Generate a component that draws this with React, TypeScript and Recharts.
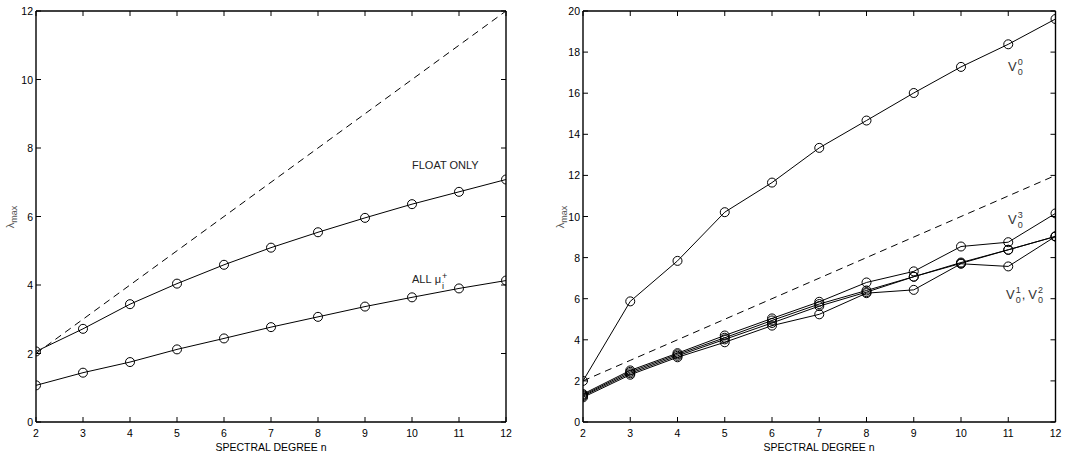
import React from 'react';
import { LineChart, Line, XAxis, YAxis } from 'recharts';

// spectral degree n on the x axis
const degrees = [2, 3, 4, 5, 6, 7, 8, 9, 10, 11, 12];

// left panel
const floatOnly = [2.06, 2.72, 3.44, 4.04, 4.59, 5.09, 5.54, 5.96, 6.36, 6.72, 7.08];
const allMu = [1.07, 1.44, 1.75, 2.12, 2.44, 2.77, 3.07, 3.37, 3.64, 3.9, 4.13];
// dashed reference lambda = n
const boundLine = [2, 3, 4, 5, 6, 7, 8, 9, 10, 11, 12];

// right panel
const v00 = [2.0, 5.87, 7.84, 10.21, 11.65, 13.34, 14.67, 16.01, 17.28, 18.38, 19.61];
const v03 = [1.36, 2.51, 3.35, 4.21, 5.04, 5.85, 6.79, 7.33, 8.54, 8.75, 10.15];
const v01 = [1.31, 2.44, 3.29, 4.1, 4.94, 5.74, 6.4, 7.07, 7.76, 8.38, 9.03];
const v02 = [1.26, 2.37, 3.22, 4.02, 4.82, 5.64, 6.32, 7.07, 7.72, 8.38, 9.03];
const v04 = [1.2, 2.3, 3.15, 3.88, 4.69, 5.24, 6.27, 6.43, 7.7, 7.57, 9.03];

const leftYTicks = [0, 2, 4, 6, 8, 10, 12];
const rightYTicks = [0, 2, 4, 6, 8, 10, 12, 14, 16, 18, 20];

const leftData = degrees.map((n, i) => ({ n, float: floatOnly[i], all: allMu[i], bound: boundLine[i] }));
const rightData = degrees.map((n, i) => ({
  n,
  v00: v00[i],
  v03: v03[i],
  v01: v01[i],
  v02: v02[i],
  v04: v04[i],
  bound: boundLine[i],
}));

const FONT = '"Liberation Sans", Arial, Helvetica, sans-serif';
const TICK = 5;
const AXIS = { stroke: '#000', strokeWidth: 1.4 };

const BottomTick = ({ x, y, payload }: any) => (
  <g>
    <line x1={x} y1={y} x2={x} y2={y - TICK} stroke="#000" />
    <text x={x} y={y + 15} textAnchor="middle" fontSize={10.5} fontFamily={FONT} fill="#000">
      {payload.value}
    </text>
  </g>
);
const TopTick = ({ x, y }: any) => <line x1={x} y1={y} x2={x} y2={y + TICK} stroke="#000" />;
const LeftTick = ({ x, y, payload }: any) => (
  <g>
    <line x1={x} y1={y} x2={x + TICK} y2={y} stroke="#000" />
    <text x={x - 3} y={y + 4} textAnchor="end" fontSize={10.5} fontFamily={FONT} fill="#000">
      {payload.value}
    </text>
  </g>
);
const RightTick = ({ x, y }: any) => <line x1={x} y1={y} x2={x - TICK} y2={y} stroke="#000" />;

const circle = { r: 4.5, stroke: '#000', strokeWidth: 1, fill: 'none' };

const Stack = ({ sup, sub, size = 9 }: { sup: string; sub: string; size?: number }) => (
  <span style={{ display: 'inline-flex', flexDirection: 'column', fontSize: size, lineHeight: `${size}px`, marginLeft: 1 }}>
    <span style={{ marginTop: -2 }}>{sup}</span>
    <span style={{ marginTop: 1 }}>{sub}</span>
  </span>
);

const V = ({ sup }: { sup: string }) => (
  <span style={{ display: 'inline-flex', alignItems: 'flex-start', lineHeight: '13px' }}>
    V
    <Stack sup={sup} sub="0" />
  </span>
);

const axes = (yTicks: number[], yMax: number, yWidth: number) => [
  <XAxis
    key="xb"
    dataKey="n"
    type="number"
    domain={[2, 12]}
    ticks={degrees}
    height={38}
    tickSize={0}
    tickMargin={0}
    tickLine={false}
    tick={<BottomTick />}
    axisLine={AXIS}
    allowDataOverflow
  />,
  <XAxis
    key="xt"
    xAxisId="top"
    orientation="top"
    dataKey="n"
    type="number"
    domain={[2, 12]}
    ticks={degrees}
    height={1}
    tickSize={0}
    tickMargin={0}
    tickLine={false}
    tick={<TopTick />}
    axisLine={AXIS}
    allowDataOverflow
  />,
  <YAxis
    key="yl"
    type="number"
    domain={[0, yMax]}
    ticks={yTicks}
    width={yWidth}
    tickSize={0}
    tickMargin={0}
    tickLine={false}
    tick={<LeftTick />}
    axisLine={AXIS}
    allowDataOverflow
  />,
  <YAxis
    key="yr"
    yAxisId="right"
    orientation="right"
    type="number"
    domain={[0, yMax]}
    ticks={yTicks}
    width={1}
    tickSize={0}
    tickMargin={0}
    tickLine={false}
    tick={<RightTick />}
    axisLine={AXIS}
    allowDataOverflow
  />,
  // invisible series so the top / right frame axes get a domain
  <Line
    key="frame"
    xAxisId="top"
    yAxisId="right"
    dataKey="bound"
    stroke="none"
    dot={false}
    activeDot={false}
    isAnimationActive={false}
  />,
];

const LambdaLabel = ({ left, top }: { left: number; top: number }) => (
  <div
    style={{
      position: 'absolute',
      left,
      top,
      transform: 'translate(-50%, -50%) rotate(-90deg)',
      fontFamily: FONT,
      fontSize: 11,
      color: '#555',
      whiteSpace: 'nowrap',
    }}
  >
    λ<sub style={{ fontSize: 9, verticalAlign: 'baseline', position: 'relative', top: 3 }}>max</sub>
  </div>
);

const XTitle = ({ left }: { left: number }) => (
  <div
    style={{
      position: 'absolute',
      left,
      top: 441,
      transform: 'translateX(-50%)',
      fontFamily: FONT,
      fontSize: 10.5,
      color: '#000',
      whiteSpace: 'nowrap',
    }}
  >
    SPECTRAL DEGREE n
  </div>
);

const textStyle: React.CSSProperties = {
  position: 'absolute',
  fontFamily: FONT,
  fontSize: 11,
  color: '#222',
  whiteSpace: 'nowrap',
  lineHeight: '11px',
};

export default function App() {
  return (
    <div style={{ position: 'absolute', left: 0, top: 0, width: 1077, height: 460, background: '#fff' }}>
      <div style={{ position: 'absolute', left: 0, top: 0 }}>
        <LineChart width={540} height={460} data={leftData} margin={{ top: 10, right: 33, bottom: 0, left: 0 }}>
          {axes(leftYTicks, 12, 36)}
          <Line dataKey="bound" stroke="#000" strokeWidth={1} strokeDasharray="7 5" dot={false} isAnimationActive={false} />
          <Line dataKey="float" stroke="#000" strokeWidth={1} dot={circle} isAnimationActive={false} />
          <Line dataKey="all" stroke="#000" strokeWidth={1} dot={circle} isAnimationActive={false} />
        </LineChart>
      </div>
      <div style={{ position: 'absolute', left: 540, top: 0 }}>
        <LineChart width={537} height={460} data={rightData} margin={{ top: 10, right: 20.5, bottom: 0, left: 0 }}>
          {axes(rightYTicks, 20, 43)}
          <Line dataKey="bound" stroke="#000" strokeWidth={1} strokeDasharray="7 5" dot={false} isAnimationActive={false} />
          <Line dataKey="v00" stroke="#000" strokeWidth={1} dot={circle} isAnimationActive={false} />
          <Line dataKey="v03" stroke="#000" strokeWidth={1} dot={circle} isAnimationActive={false} />
          <Line dataKey="v01" stroke="#000" strokeWidth={1} dot={circle} isAnimationActive={false} />
          <Line dataKey="v02" stroke="#000" strokeWidth={1} dot={circle} isAnimationActive={false} />
          <Line dataKey="v04" stroke="#000" strokeWidth={1} dot={circle} isAnimationActive={false} />
        </LineChart>
      </div>

      <LambdaLabel left={10} top={217} />
      <LambdaLabel left={560} top={217} />
      <XTitle left={271} />
      <XTitle left={819} />

      <div style={{ ...textStyle, left: 412, top: 160 }}>FLOAT ONLY</div>
      <div style={{ ...textStyle, left: 412, top: 274, display: 'flex', alignItems: 'flex-start' }}>
        ALL&nbsp;μ
        <Stack sup="+" sub="i" />
      </div>

      <div style={{ ...textStyle, fontSize: 13, color: '#333', left: 1008, top: 60 }}>
        <V sup="0" />
      </div>
      <div style={{ ...textStyle, fontSize: 13, color: '#333', left: 1008, top: 213 }}>
        <V sup="3" />
      </div>
      <div style={{ ...textStyle, fontSize: 13, color: '#333', left: 1006, top: 288, display: 'flex' }}>
        <V sup="1" />
        <span style={{ marginLeft: 1, marginRight: 3, lineHeight: '13px' }}>,</span>
        <V sup="2" />
      </div>
    </div>
  );
}
